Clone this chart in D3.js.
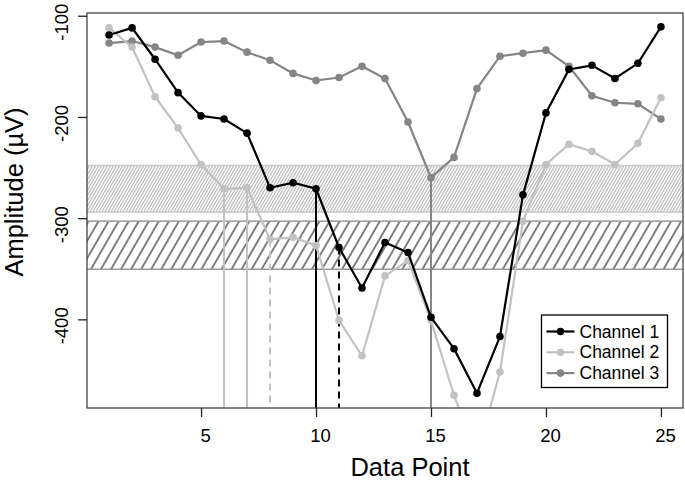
<!DOCTYPE html>
<html>
<head>
<meta charset="utf-8">
<script src="https://cdn.jsdelivr.net/npm/d3@7"></script>
<style>
  body { margin: 0; background: #fff; }
  text { font-family: "Liberation Sans", Arial, sans-serif; fill: #000; }
</style>
</head>
<body>
<div id="chart"></div>
<script>
// Data
const points = d3.range(1, 26);
const channel1 = [-119, -112, -143, -176, -199, -202, -216, -270, -265, -271, -329, -369, -324,
  -334, -398, -429, -473, -417, -277, -196, -153, -149, -162, -147, -111];
const channel2 = [-112, -131, -180, -211, -247, -271, -270, -321, -319, -327, -401, -436, -357,
  -342, -401, -475, -535, -452, -303, -247, -227, -234, -247, -226, -181];
const channel3 = [-127, -125, -131, -139, -126, -125, -136, -144, -157, -164, -161, -150, -162,
  -205, -260, -240, -172, -140, -137, -134, -150, -179, -186, -187, -202];
const seriesNames = ["Channel 1", "Channel 2", "Channel 3"];
const xTicks = [5, 10, 15, 20, 25];
const yTicks = [-100, -200, -300, -400];
// shaded ranges (upper, lower)
const bandLight = [-248, -294];
const bandDark = [-303, -350.5];
// drop lines: [channel, data point] marked down to the axis
const solidDrops = [[2, 6], [2, 7], [1, 10], [3, 15]];
const dashedDrops = [[2, 8], [1, 11]];

const width = 685;
const height = 480;
const margin = {top: 13, right: 2, bottom: 72, left: 87};
const w = width - margin.left - margin.right;
const h = height - margin.top - margin.bottom;

const colors = ["#000000", "#c2c2c2", "#858585"];
const values = [channel1, channel2, channel3];

const svg = d3.select("#chart").append("svg")
  .attr("width", width)
  .attr("height", height);

const defs = svg.append("defs");
defs.append("clipPath").attr("id", "plotclip")
  .append("rect").attr("width", w).attr("height", h);

// hatch patterns
const fine = defs.append("pattern").attr("id", "hatchFine")
  .attr("patternUnits", "userSpaceOnUse")
  .attr("width", 2.6).attr("height", 10)
  .attr("patternTransform", "rotate(30)");
fine.append("rect").attr("width", 2.6).attr("height", 10).attr("fill", "#fff");
fine.append("line").attr("x1", 0.6).attr("x2", 0.6).attr("y1", 0).attr("y2", 10)
  .attr("stroke", "#b5b5b5").attr("stroke-width", 1.1);

const coarse = defs.append("pattern").attr("id", "hatchCoarse")
  .attr("patternUnits", "userSpaceOnUse")
  .attr("width", 8.7).attr("height", 10)
  .attr("patternTransform", "rotate(30)");
coarse.append("rect").attr("width", 8.7).attr("height", 10).attr("fill", "#fff");
coarse.append("line").attr("x1", 1).attr("x2", 1).attr("y1", 0).attr("y2", 10)
  .attr("stroke", "#2e2e2e").attr("stroke-width", 1.2);

const g = svg.append("g")
  .attr("transform", "translate(" + margin.left + "," + margin.top + ")");

// Scales
const x = d3.scaleLinear().domain([0.04, 25.96]).range([0, w]);
const y = d3.scaleLinear().domain([-97.3, -487.6]).range([0, h]);

const plot = g.append("g").attr("clip-path", "url(#plotclip)");

// Bands
plot.append("rect")
  .attr("x", -2).attr("width", w + 4)
  .attr("y", y(bandLight[0]))
  .attr("height", y(bandLight[1]) - y(bandLight[0]))
  .attr("fill", "url(#hatchFine)")
  .attr("stroke", "#c8c8c8").attr("stroke-width", 1.5);

plot.append("rect")
  .attr("x", -2).attr("width", w + 4)
  .attr("y", y(bandDark[0]))
  .attr("height", y(bandDark[1]) - y(bandDark[0]))
  .attr("fill", "url(#hatchCoarse)")
  .attr("stroke", "#999").attr("stroke-width", 1.5);

// Drop lines
function drawDrops(list, dashed) {
  plot.selectAll(null)
    .data(list)
    .enter()
    .append("line")
    .attr("x1", (d) => x(d[1]))
    .attr("x2", (d) => x(d[1]))
    .attr("y1", (d) => y(values[d[0] - 1][d[1] - 1]))
    .attr("y2", h + 2)
    .attr("stroke", (d) => colors[d[0] - 1])
    .attr("stroke-width", 2)
    .attr("stroke-dasharray", dashed ? "7,5" : null);
}
drawDrops(solidDrops, false);
drawDrops(dashedDrops, true);

// Series lines
const line = d3.line()
  .x((d, i) => x(points[i]))
  .y((d) => y(d));

[2, 1, 0].forEach(function(k) {
  plot.append("path")
    .datum(values[k])
    .attr("fill", "none")
    .attr("stroke", colors[k])
    .attr("stroke-width", 2.2)
    .attr("d", line);
  plot.selectAll(null)
    .data(values[k])
    .enter()
    .append("circle")
    .attr("cx", (d, i) => x(points[i]))
    .attr("cy", (d) => y(d))
    .attr("r", 3.8)
    .attr("fill", colors[k]);
});

// Frame
g.append("rect")
  .attr("width", w).attr("height", h)
  .attr("fill", "none")
  .attr("stroke", "#444").attr("stroke-width", 1.3);

// Axes
const xAxis = g.append("g")
  .attr("transform", "translate(0," + h + ")")
  .call(d3.axisBottom(x).tickValues(xTicks).tickSize(9)
    .tickFormat((d) => String(d)));
xAxis.select(".domain").remove();
xAxis.selectAll(".tick line").attr("stroke", "#222").attr("stroke-width", 1.3);
xAxis.selectAll(".tick text")
  .attr("font-size", 18.5)
  .attr("font-family", "Liberation Sans, Arial, sans-serif")
  .attr("dy", null)
  .attr("x", 4)
  .attr("y", 34);

const yAxis = g.append("g")
  .call(d3.axisLeft(y).tickValues(yTicks).tickSize(9)
    .tickFormat((d) => String(d)));
yAxis.select(".domain").remove();
yAxis.selectAll(".tick line").attr("stroke", "#222").attr("stroke-width", 1.3);
yAxis.selectAll(".tick text")
  .attr("font-size", 18.5)
  .attr("font-family", "Liberation Sans, Arial, sans-serif")
  .attr("text-anchor", "middle")
  .attr("x", null)
  .attr("dy", null)
  .attr("transform", "translate(-19,6) rotate(-90)");

// Axis titles
svg.append("text")
  .attr("x", 410)
  .attr("y", 476)
  .attr("text-anchor", "middle")
  .attr("font-size", 25.5)
  .text("Data Point");

svg.append("text")
  .attr("transform", "translate(23,192) rotate(-90)")
  .attr("text-anchor", "middle")
  .attr("font-size", 25.5)
  .text("Amplitude (\u00b5V)");

// Legend
const legend = svg.append("g").attr("transform", "translate(541.5,315)");
legend.append("rect")
  .attr("width", 126).attr("height", 72.5)
  .attr("fill", "#fff")
  .attr("stroke", "#000").attr("stroke-width", 1.3);

const rows = legend.selectAll(".row")
  .data(seriesNames)
  .enter()
  .append("g")
  .attr("class", "row")
  .attr("transform", (d, i) => "translate(0," + (16.5 + i * 20.8) + ")");
rows.append("line")
  .attr("x1", 5).attr("x2", 33)
  .attr("stroke", (d, i) => colors[i]).attr("stroke-width", 2.2);
rows.append("circle")
  .attr("cx", 19).attr("r", 3.8)
  .attr("fill", (d, i) => colors[i]);
rows.append("text")
  .attr("x", 38).attr("dy", "0.35em")
  .attr("font-size", 17.5)
  .text((d) => d);
</script>
</body>
</html>
